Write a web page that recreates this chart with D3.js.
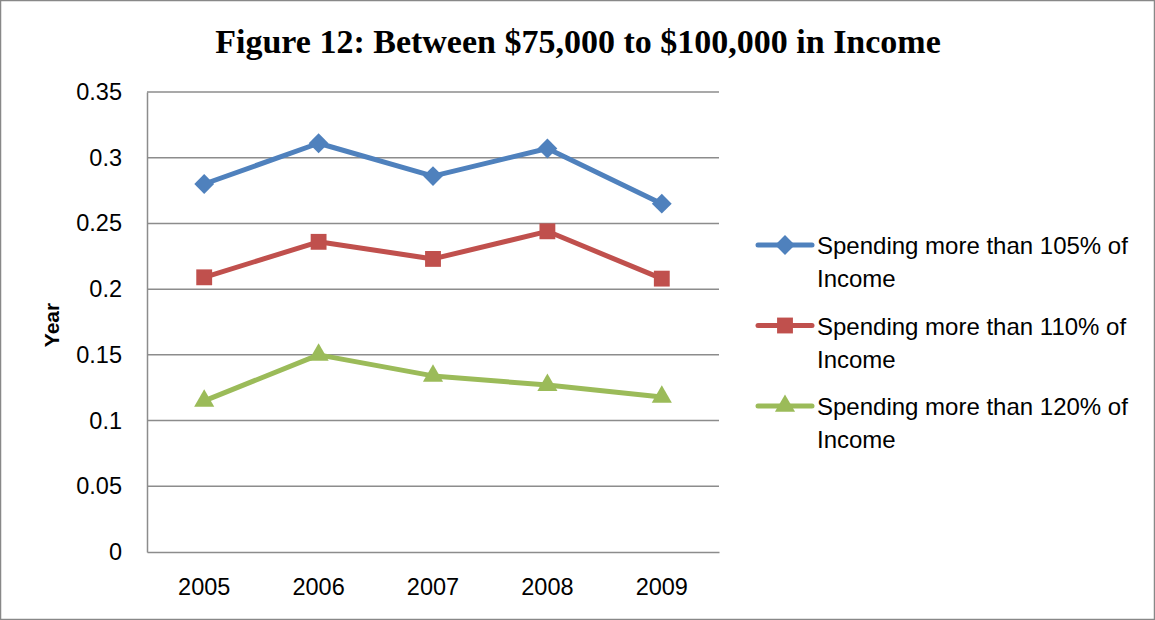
<!DOCTYPE html>
<html>
<head>
<meta charset="utf-8">
<script src="https://cdn.jsdelivr.net/npm/d3@7"></script>
<style>
  html, body { margin: 0; padding: 0; background: #fff; }
  svg { display: block; }
</style>
</head>
<body>
<svg id="chart" width="1155" height="620"></svg>
<script>
// Share of households spending beyond income thresholds, by year
const years = ["2005", "2006", "2007", "2008", "2009"];
const over105 = [0.280, 0.311, 0.286, 0.307, 0.265];
const over110 = [0.209, 0.236, 0.223, 0.244, 0.208];
const over120 = [0.115, 0.150, 0.134, 0.127, 0.118];
const yTicks = [0, 0.05, 0.1, 0.15, 0.2, 0.25, 0.3, 0.35];
const seriesNames = [
  ["Spending more than 105% of", "Income"],
  ["Spending more than 110% of", "Income"],
  ["Spending more than 120% of", "Income"]
];

const series = [
  { name: seriesNames[0], values: over105, color: "#4F81BD", symbol: d3.symbolDiamond2 },
  { name: seriesNames[1], values: over110, color: "#C0504D", symbol: d3.symbolSquare2 },
  { name: seriesNames[2], values: over120, color: "#9BBB59", symbol: d3.symbolTriangle2 }
];

const svg = d3.select("#chart");
const W = 1155, H = 620;
const plot = { left: 147, right: 719, top: 92, bottom: 552 };

// outer chart frame
svg.append("rect")
  .attr("x", 0.5).attr("y", 0.5)
  .attr("width", W - 1).attr("height", H - 1)
  .attr("fill", "#fff").attr("stroke", "#888").attr("stroke-width", 1.5);

// title
svg.append("text")
  .attr("x", 578).attr("y", 53)
  .attr("text-anchor", "middle")
  .style("font-family", "'Liberation Serif', serif")
  .style("font-weight", "bold")
  .style("font-size", "34px")
  .attr("fill", "#000")
  .text("Figure 12: Between $75,000 to $100,000 in Income");

const x = d3.scaleBand().domain(years).range([plot.left, plot.right]);
const y = d3.scaleLinear().domain([0, 0.35]).range([plot.bottom, plot.top]);

const font = "'Liberation Sans', Arial, sans-serif";

// horizontal gridlines
svg.append("g")
  .selectAll("line")
  .data(yTicks.filter(t => t > 0))
  .join("line")
  .attr("x1", plot.left).attr("x2", plot.right)
  .attr("y1", d => y(d)).attr("y2", d => y(d))
  .attr("stroke", "#8c8c8c").attr("stroke-width", 1.5);

// y axis
const yAxis = svg.append("g")
  .attr("transform", `translate(${plot.left},0)`)
  .call(d3.axisLeft(y).tickValues(yTicks).tickSize(0).tickPadding(25)
    .tickFormat(d => d3.format("")(+d.toFixed(2))));
yAxis.select(".domain").attr("stroke", "#8c8c8c").attr("stroke-width", 1.5);
yAxis.selectAll("text")
  .style("font-family", font).style("font-size", "23.5px").attr("fill", "#000");

// x axis
const xAxis = svg.append("g")
  .attr("transform", `translate(0,${plot.bottom})`)
  .call(d3.axisBottom(x).tickSize(0).tickPadding(26));
xAxis.select(".domain").attr("stroke", "#8c8c8c").attr("stroke-width", 1.5);
xAxis.selectAll("text")
  .style("font-family", font).style("font-size", "23.5px").attr("fill", "#000");

// y axis title
svg.append("text")
  .attr("transform", "translate(59,325) rotate(-90)")
  .attr("text-anchor", "middle")
  .style("font-family", font).style("font-weight", "bold").style("font-size", "21px")
  .attr("fill", "#000")
  .text("Year");

const line = d3.line()
  .x((d, i) => x(years[i]) + x.bandwidth() / 2)
  .y(d => y(d));

const symbolSize = s => s === d3.symbolTriangle2 ? 290 : (s === d3.symbolDiamond2 ? 250 : 320);

series.forEach(s => {
  const g = svg.append("g");
  g.append("path")
    .datum(s.values)
    .attr("d", line)
    .attr("fill", "none")
    .attr("stroke", s.color)
    .attr("stroke-width", 5)
    .attr("stroke-linejoin", "round");
  g.selectAll("path.marker")
    .data(s.values)
    .join("path")
    .attr("class", "marker")
    .attr("transform", (d, i) => `translate(${x(years[i]) + x.bandwidth() / 2},${y(d)})`)
    .attr("d", d3.symbol().type(s.symbol).size(symbolSize(s.symbol)))
    .attr("fill", s.color);
});

// legend
const legend = svg.append("g");
series.forEach((s, i) => {
  const cy = 245 + i * 80.5;
  legend.append("line")
    .attr("x1", 758).attr("x2", 812)
    .attr("y1", cy).attr("y2", cy)
    .attr("stroke", s.color).attr("stroke-width", 5).attr("stroke-linecap", "round");
  legend.append("path")
    .attr("transform", `translate(785,${cy})`)
    .attr("d", d3.symbol().type(s.symbol).size(symbolSize(s.symbol)))
    .attr("fill", s.color);
  s.name.forEach((t, j) => {
    legend.append("text")
      .attr("x", 817).attr("y", cy + 9 + j * 33)
      .style("font-family", font).style("font-size", "24px")
      .attr("fill", "#000")
      .text(t);
  });
});
</script>
</body>
</html>
